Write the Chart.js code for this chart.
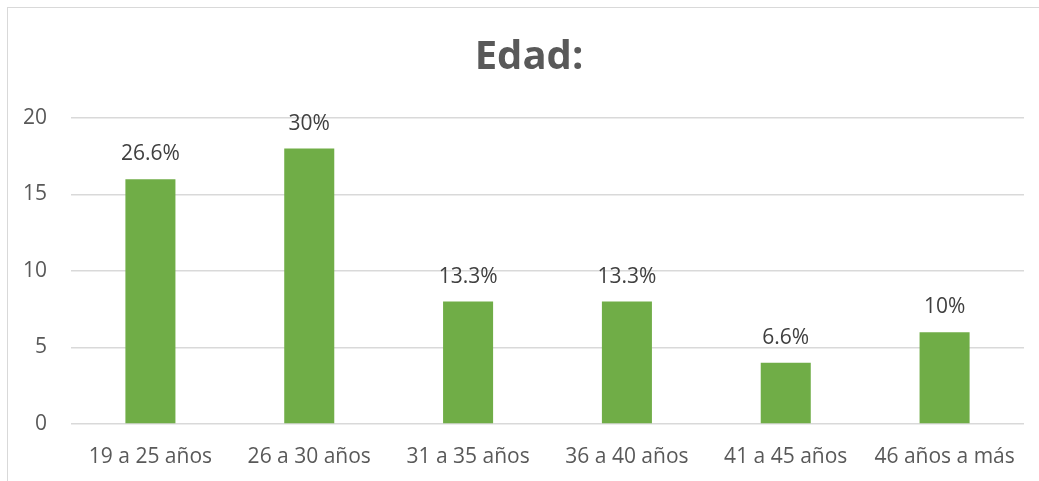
<!DOCTYPE html>
<html>
<head>
<meta charset="utf-8">
<script src="https://cdn.jsdelivr.net/npm/chart.js@4"></script>
<style>
  html, body { margin: 0; padding: 0; background: #fff; overflow: hidden; }
  #marco { position: absolute; left: 7px; top: 7px; width: 2000px; height: 2000px;
           border-left: 1px solid #d9d9d9; border-top: 1px solid #d9d9d9; }
  #caja { position: absolute; left: 0; top: 0; width: 1039px; height: 481px; }
</style>
</head>
<body>
<div id="marco"></div>
<div id="caja"><canvas id="grafico"></canvas></div>
<script>
const categorias = ['19 a 25 años', '26 a 30 años', '31 a 35 años', '36 a 40 años', '41 a 45 años', '46 años a más'];
const cantidades = [16, 18, 8, 8, 4, 6];
const porcentajes = ['26.6%', '30%', '13.3%', '13.3%', '6.6%', '10%'];
const marcas_y = [0, 5, 10, 15, 20];
const titulo = 'Edad:';

const fuente = "'Open Sans', 'DejaVu Sans', sans-serif";

// etiquetas encima de cada barra y el título
const etiquetas = {
    id: 'etiquetas',
    afterDatasetsDraw(chart) {
        const c = chart.ctx;
        const meta = chart.getDatasetMeta(0);
        c.save();
        c.font = '21px ' + fuente;
        c.fillStyle = '#404040';
        c.textAlign = 'center';
        c.textBaseline = 'middle';
        meta.data.forEach((barra, i) => {
            c.fillText(porcentajes[i], barra.x, barra.y - 25);
        });
        c.font = 'bold 40px ' + fuente;
        c.fillStyle = '#595959';
        c.fillText(titulo, 529, 58);
        c.restore();
    }
};

const ctx = document.getElementById('grafico');
const grafico = new Chart(ctx, {
    type: 'bar',
    data: {
        labels: categorias,
        datasets: [{
            data: cantidades,
            backgroundColor: '#70AD47',
            barPercentage: 0.63,
            categoryPercentage: 0.5
        }]
    },
    options: {
        responsive: true,
        maintainAspectRatio: false,
        animation: false,
        layout: { padding: { top: 118, right: 15, left: 0, bottom: 0 } },
        plugins: {
            legend: { display: false },
            tooltip: { enabled: false },
            title: { display: false }
        },
        scales: {
            x: {
                grid: { display: false },
                border: { display: false },
                ticks: {
                    color: '#595959',
                    font: { family: fuente, size: 21 },
                    padding: 12,
                    maxRotation: 0
                },
                afterFit(scale) { scale.height = 57; }
            },
            y: {
                min: 0,
                max: 20,
                afterBuildTicks(scale) { scale.ticks = marcas_y.map(v => ({ value: v })); },
                grid: { color: '#d9d9d9', lineWidth: 1.5, drawTicks: false },
                border: { display: false },
                ticks: {
                    color: '#595959',
                    font: { family: fuente, size: 21 },
                    padding: 24
                },
                afterFit(scale) { scale.width = 71; }
            }
        }
    },
    plugins: [etiquetas]
});
</script>
</body>
</html>
